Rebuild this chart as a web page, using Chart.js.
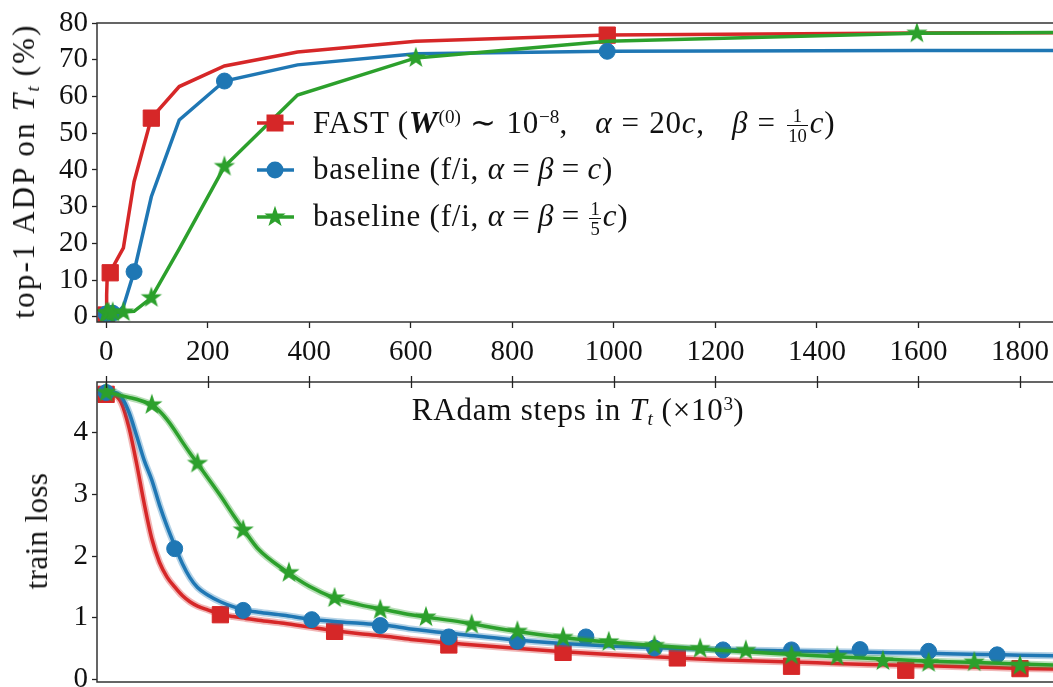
<!DOCTYPE html>
<html>
<head>
<meta charset="utf-8">
<script src="https://cdn.jsdelivr.net/npm/chart.js@4.4.1/dist/chart.umd.min.js"></script>
<style>
  html, body { margin: 0; padding: 0; background: #fff; }
  #wrap { position: relative; width: 1053px; height: 687px; overflow: hidden;
          font-family: 'Liberation Serif', serif; color: #111; }
  .box { position: absolute; left: 0; width: 1053px; }
  #topBox { top: 0; height: 372px; }
  #botBox { top: 360px; height: 327px; }
  .lbl { position: absolute; white-space: nowrap; font-family: 'Liberation Serif', serif; font-size: 31px;
         letter-spacing: 0.8px; height: 40px; line-height: 40px; }
  .rot { transform: translate(-50%, -50%) rotate(-90deg); }
  .r { margin: 0 0.24em; }
  .r2 { margin: 0 0.3em; }
  .gap { margin-left: 0.6em; }
  sup { font-size: 62%; vertical-align: 0.5em; line-height: 0; letter-spacing: 0; }
  sub { font-size: 62%; vertical-align: -0.25em; line-height: 0; letter-spacing: 0; }
  .frac { display: inline-block; vertical-align: middle; text-align: center;
          font-size: 60%; line-height: 1.05; margin: 0 2px; letter-spacing: 0; }
  .frac span { display: block; padding: 0 1px; }
  .frac span + span { border-top: 1px solid #111; }
</style>
</head>
<body>
<div id="wrap">
  <div class="box" id="topBox"><canvas id="adpChart"></canvas></div>
  <div class="box" id="botBox"><canvas id="lossChart"></canvas></div>

  <div class="lbl rot" style="left:24px; top:171px; letter-spacing:2.2px;">top-1 ADP on <i>T<sub>t</sub></i> (%)</div>
  <div class="lbl rot" style="left:37px; top:531px; letter-spacing:0.4px;">train loss</div>
  <div class="lbl" style="left:578px; top:390px; transform: translateX(-50%);">RAdam steps in <i>T<sub>t</sub></i> (×10<sup>3</sup>)</div>

  <div class="lbl" style="left:313px; top:102px;">FAST (<b><i style="font-size:1.05em">W</i></b><sup>(0)</sup><span class="r2">∼</span>10<sup>−8</sup>,<span class="gap"> </span><i>α</i><span class="r2">=</span>20<i>c</i>,<span class="gap"> </span><i>β</i><span class="r2">=</span><span class="frac"><span>1</span><span>10</span></span><i>c</i>)</div>
  <div class="lbl" style="left:313px; top:149px;">baseline (f/i, <i>α</i><span class="r">=</span><i>β</i><span class="r">=</span><i>c</i>)</div>
  <div class="lbl" style="left:313px; top:196px;">baseline (f/i, <i>α</i><span class="r">=</span><i>β</i><span class="r">=</span><span class="frac"><span>1</span><span>5</span></span><i>c</i>)</div>
</div>

<script>
const RED = '#d62728', BLUE = '#1f77b4', GREEN = '#2ca02c';
const SERIF = "'Liberation Serif', serif";

// top panel: evaluation points (RAdam steps x10^3) and top-1 ADP (%)
const evalSteps = [0, 1, 2, 3, 5, 8, 13, 21, 34, 55, 89, 144, 233, 377, 610, 987, 1597, 2584];
const adpFast   = [0.5, 6, 10.5, 11.5, 11.8, 12, 13.5, 15.5, 18.8, 36.8, 54.1, 62.7, 68.3, 72.1, 75.0, 76.7, 77.3, 77.5];
const adpBaseC  = [0.8, 0.8, 0.8, 0.8, 0.9, 1.0, 1.0, 1.1, 2.8, 12.3, 32.7, 53.6, 64.2, 68.6, 71.6, 72.3, 72.5, 72.6];
const adpBaseC5 = [1.0, 1.0, 1.1, 1.1, 1.1, 1.1, 1.2, 1.2, 1.3, 1.5, 5.2, 18.5, 40.9, 60.4, 70.5, 75.0, 77.2, 77.9];

// bottom panel: train loss
const lossSteps = [0, 15, 30, 45, 60, 75, 90, 105, 120, 135, 150, 165, 180, 200, 225, 250, 275, 300, 350, 400,
                   450, 500, 550, 600, 700, 800, 900, 1000, 1100, 1200, 1300, 1400, 1500, 1600, 1700, 1800, 1900];
const lossFast   = [4.62, 4.61, 4.48, 4.08, 3.50, 2.85, 2.28, 1.90, 1.66, 1.50, 1.36, 1.26, 1.19, 1.13, 1.06, 1.02, 0.99, 0.96, 0.91, 0.85,
                    0.79, 0.74, 0.70, 0.65, 0.575, 0.51, 0.45, 0.40, 0.36, 0.32, 0.295, 0.27, 0.245, 0.225, 0.205, 0.18, 0.165];
const lossBaseC  = [4.65, 4.65, 4.58, 4.33, 3.95, 3.55, 3.23, 2.83, 2.48, 2.17, 1.88, 1.65, 1.49, 1.37, 1.26, 1.18, 1.12, 1.09, 1.04, 0.98,
                    0.94, 0.91, 0.88, 0.82, 0.73, 0.645, 0.585, 0.54, 0.51, 0.485, 0.47, 0.455, 0.44, 0.43, 0.41, 0.395, 0.38];
const lossBaseC5 = [4.65, 4.63, 4.60, 4.57, 4.54, 4.50, 4.45, 4.35, 4.21, 4.04, 3.85, 3.67, 3.50, 3.27, 2.98, 2.67, 2.38, 2.11, 1.78, 1.51,
                    1.32, 1.21, 1.13, 1.05, 0.93, 0.79, 0.68, 0.60, 0.54, 0.48, 0.43, 0.385, 0.345, 0.305, 0.28, 0.25, 0.23];

// marker positions on the loss curves
const fastMarkSteps = [0, 225, 450, 675, 900, 1125, 1350, 1575, 1800];
const fastMarkLoss  = [4.62, 1.05, 0.78, 0.56, 0.44, 0.35, 0.215, 0.15, 0.177];
const baseCMarkSteps = [0, 135, 270, 405, 540, 675, 810, 945, 1080, 1215, 1350, 1485, 1620, 1755];
const baseCMarkLoss  = [4.65, 2.12, 1.12, 0.97, 0.875, 0.69, 0.62, 0.69, 0.51, 0.48, 0.48, 0.485, 0.457, 0.40];
const baseC5MarkSteps = [0, 90, 180, 270, 360, 450, 540, 630, 720, 810, 900, 990, 1080, 1170, 1260, 1350, 1440, 1530, 1620, 1710, 1800];
const baseC5MarkLoss  = [4.65, 4.45, 3.5, 2.42, 1.73, 1.32, 1.13, 1.01, 0.89, 0.78, 0.68, 0.61, 0.55, 0.50, 0.47, 0.39, 0.376, 0.30, 0.27, 0.28, 0.226];

const stepTicks = [0, 200, 400, 600, 800, 1000, 1200, 1400, 1600, 1800];
const adpTicks  = [0, 10, 20, 30, 40, 50, 60, 70, 80];
const lossTicks = [0, 1, 2, 3, 4];

const pts = (xs, ys) => xs.map((x, i) => ({ x: x, y: ys[i] }));

// filled 5-point star like matplotlib's '*'
const starImg = (() => {
    const c = document.createElement('canvas');
    c.width = c.height = 24;
    const g = c.getContext('2d');
    g.fillStyle = GREEN;
    g.beginPath();
    for (let i = 0; i < 10; i++) {
        const r = i % 2 ? 4.4 : 11.2;
        const a = -Math.PI / 2 + i * Math.PI / 5;
        g.lineTo(12 + r * Math.cos(a), 12 + r * Math.sin(a));
    }
    g.closePath();
    g.fill();
    return c;
})();

const frame = {
    id: 'frame',
    afterDraw(chart) {
        const { ctx, chartArea: a } = chart;
        ctx.save();
        ctx.strokeStyle = '#333';
        ctx.lineWidth = 1.5;
        ctx.strokeRect(a.left, a.top, a.right - a.left + 4, a.bottom - a.top);
        ctx.restore();
    }
};

// legend symbols (line + marker) drawn on the top chart
const legendMarks = {
    id: 'legendMarks',
    afterDraw(chart) {
        const ctx = chart.ctx;
        const rows = [[RED, 'rect', 123], [BLUE, 'circle', 170], [GREEN, 'star', 217]];
        ctx.save();
        rows.forEach(([col, shape, y]) => {
            ctx.strokeStyle = col;
            ctx.fillStyle = col;
            ctx.lineWidth = 3.5;
            ctx.beginPath();
            ctx.moveTo(257, y);
            ctx.lineTo(294, y);
            ctx.stroke();
            if (shape === 'rect') ctx.fillRect(275 - 8.5, y - 8.5, 17, 17);
            else if (shape === 'circle') { ctx.beginPath(); ctx.arc(275, y, 8.5, 0, Math.PI * 2); ctx.fill(); }
            else ctx.drawImage(starImg, 275 - 12, y - 12);
        });
        ctx.restore();
    }
};

// tick marks on the top edge of the loss panel
const topTicks = {
    id: 'topTicks',
    afterDraw(chart) {
        const { ctx, chartArea: a } = chart;
        const xs = chart.scales.x;
        ctx.save();
        ctx.strokeStyle = '#222';
        ctx.lineWidth = 1.3;
        stepTicks.forEach(v => {
            const px = Math.round(xs.getPixelForValue(v)) + 0.5;
            ctx.beginPath();
            ctx.moveTo(px, a.top - 6);
            ctx.lineTo(px, a.top + 6);
            ctx.stroke();
        });
        ctx.restore();
    }
};

const tickFont = { family: SERIF, size: 29 };

function xAxis(show) {
    return {
        type: 'linear', min: -18, max: 1865, display: show,
        afterBuildTicks: s => { s.ticks = stepTicks.map(v => ({ value: v })); },
        afterFit: s => { s.height = show ? 50 : 0; s.paddingLeft = 0; s.paddingRight = 0; },
        grid: { drawOnChartArea: false, tickLength: 6, tickColor: '#222', tickWidth: 1.3 },
        border: { display: false },
        ticks: { font: tickFont, color: '#111', padding: 7, maxRotation: 0, autoSkip: false, callback: v => String(v) }
    };
}

function yAxis(min, max, ticks) {
    return {
        min: min, max: max,
        afterBuildTicks: s => { s.ticks = ticks.map(v => ({ value: v })); },
        afterFit: s => { s.width = 97; s.paddingTop = 0; s.paddingBottom = 0; },
        grid: { drawOnChartArea: false, tickLength: 5, tickColor: '#222', tickWidth: 1.3 },
        border: { display: false },
        ticks: { font: tickFont, color: '#111', padding: 4, autoSkip: false, callback: v => String(v) }
    };
}

function adpSet(data, col, style, r, every) {
    return {
        data: pts(evalSteps, data),
        borderColor: col, backgroundColor: col, borderWidth: 3.5, tension: 0,
        pointStyle: style, pointBackgroundColor: col, pointBorderColor: col, pointBorderWidth: 1,
        pointRadius: c => (c.dataIndex % every === 0 ? r : 0)
    };
}

new Chart(document.getElementById('adpChart'), {
    type: 'line',
    data: {
        datasets: [
            adpSet(adpBaseC5, GREEN, starImg, 12, 2),
            adpSet(adpBaseC, BLUE, 'circle', 8, 3),
            adpSet(adpFast, RED, 'rect', 11.5, 5)
        ]
    },
    options: {
        responsive: true, maintainAspectRatio: false, animation: false, events: [],
        layout: { autoPadding: false, padding: { top: 23, left: 0, right: 0, bottom: 0 } },
        plugins: { legend: { display: false }, tooltip: { enabled: false } },
        scales: { x: xAxis(true), y: yAxis(-1.4, 80, adpTicks) }
    },
    plugins: [frame, legendMarks]
});

function lineSet(data, col) {
    return {
        data: pts(lossSteps, data), borderColor: col, borderWidth: 3.5,
        cubicInterpolationMode: 'monotone', pointRadius: 0
    };
}
function bandSet(data, col) {
    return {
        data: pts(lossSteps, data), borderColor: col + '55', borderWidth: 7,
        cubicInterpolationMode: 'monotone', pointRadius: 0
    };
}
function markSet(xs, ys, col, style, r) {
    return {
        data: pts(xs, ys), showLine: false, pointStyle: style, pointRadius: r,
        pointBackgroundColor: col, pointBorderColor: col, pointBorderWidth: 1
    };
}

new Chart(document.getElementById('lossChart'), {
    type: 'line',
    data: {
        datasets: [
            markSet(baseC5MarkSteps, baseC5MarkLoss, GREEN, starImg, 12),
            lineSet(lossBaseC5, GREEN),
            bandSet(lossBaseC5, GREEN),
            markSet(baseCMarkSteps, baseCMarkLoss, BLUE, 'circle', 8),
            lineSet(lossBaseC, BLUE),
            bandSet(lossBaseC, BLUE),
            markSet(fastMarkSteps, fastMarkLoss, RED, 'rect', 11.5),
            lineSet(lossFast, RED),
            bandSet(lossFast, RED)
        ]
    },
    options: {
        responsive: true, maintainAspectRatio: false, animation: false, events: [],
        layout: { autoPadding: false, padding: { top: 22, left: 0, right: 0, bottom: 5 } },
        plugins: { legend: { display: false }, tooltip: { enabled: false } },
        scales: { x: xAxis(false), y: yAxis(-0.04, 4.82, lossTicks) }
    },
    plugins: [frame, topTicks]
});
</script>
</body>
</html>
